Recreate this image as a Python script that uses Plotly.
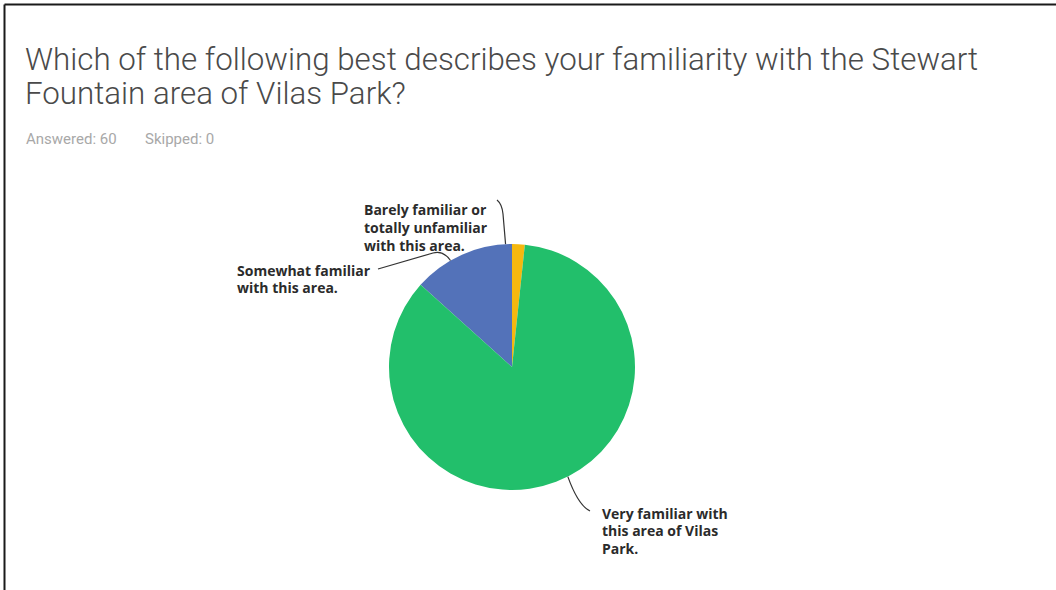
import math
import plotly.graph_objects as go

W, H = 1056, 590

categories = [
    "Barely familiar or totally unfamiliar with this area.",
    "Somewhat familiar with this area.",
    "Very familiar with this area of Vilas Park.",
]
label_lines = [
    ["Barely familiar or", "totally unfamiliar", "with this area."],
    ["Somewhat familiar", "with this area."],
    ["Very familiar with", "this area of Vilas", "Park."],
]
values = [1, 8, 51]
colors = ["#f5b80f", "#5372b9", "#22bf6b"]

title_lines = [
    "Which of the following best describes your familiarity with the Stewart",
    "Fountain area of Vilas Park?",
]
subtitle_parts = ["Answered: 60", "Skipped: 0"]

# layout geometry (pixels)
CX, CY, R = 512, 367, 123


def px(x):
    return x / W


def py(y):
    return 1 - y / H


fig = go.Figure()
fig.add_trace(go.Pie(
    labels=categories,
    values=values,
    marker=dict(colors=colors, line=dict(width=0)),
    sort=False,
    direction="counterclockwise",
    rotation=0,
    textinfo="none",
    hoverinfo="label+value+percent",
    showlegend=False,
    domain=dict(x=[px(CX - R), px(CX + R)], y=[py(CY + R), py(CY - R)]),
))

# slice mid-angle anchor points (counterclockwise from 12 o'clock)
total = sum(values)
anchors = []
cum = 0
for v in values:
    mid = (cum + v / 2) / total * 2 * math.pi
    cum += v
    anchors.append((CX - R * math.sin(mid), CY - R * math.cos(mid)))

# label text positions (pixels: left x, first-line y)
label_pos = [(362, 210), (235, 270), (600, 513)]
line_h = 17.5

shapes = []
ax, ay = anchors[0]
shapes.append(dict(type="path", xref="paper", yref="paper",
                   path=f"M {px(ax)} {py(ay)} L {px(503)} {py(214)} Q {px(502)} {py(204)} {px(497)} {py(200)}",
                   line=dict(color="#333333", width=1.2)))
ax, ay = anchors[1]
shapes.append(dict(type="path", xref="paper", yref="paper",
                   path=f"M {px(ax)} {py(ay)} Q {px(443)} {py(250)} {px(433)} {py(253)} L {px(378)} {py(269)}",
                   line=dict(color="#333333", width=1.2)))
ax, ay = anchors[2]
shapes.append(dict(type="path", xref="paper", yref="paper",
                   path=f"M {px(ax)} {py(ay)} Q {px(578)} {py(505)} {px(590)} {py(511)}",
                   line=dict(color="#333333", width=1.2)))

# frame lines (left and top)
shapes.append(dict(type="line", xref="paper", yref="paper",
                   x0=px(4.5), x1=px(4.5), y0=0, y1=py(4.5),
                   line=dict(color="#1a1a1a", width=2)))
shapes.append(dict(type="line", xref="paper", yref="paper",
                   x0=px(4.5), x1=1, y0=py(4.5), y1=py(4.5),
                   line=dict(color="#1a1a1a", width=2)))

annotations = []
for (lx, ly), lines in zip(label_pos, label_lines):
    for i, t in enumerate(lines):
        annotations.append(dict(
            x=px(lx), y=py(ly + i * line_h), xref="paper", yref="paper",
            xanchor="left", yanchor="middle", showarrow=False, text=t,
            font=dict(family="Open Sans", size=14, color="#2b2b2b", weight="bold"),
        ))

for i, t in enumerate(title_lines):
    annotations.append(dict(
        x=px(23), y=py(60 + i * 34), xref="paper", yref="paper",
        xanchor="left", yanchor="middle", showarrow=False, text=t,
        font=dict(family="Roboto", size=31.3, color="#4a4a4a", weight=300),
    ))

for xpos, t in zip([24, 143], subtitle_parts):
    annotations.append(dict(
        x=px(xpos), y=py(139), xref="paper", yref="paper",
        xanchor="left", yanchor="middle", showarrow=False, text=t,
        font=dict(family="Roboto", size=15, color="#a8a8a8"),
    ))

fig.update_layout(
    width=W, height=H,
    margin=dict(l=0, r=0, t=0, b=0),
    paper_bgcolor="white", plot_bgcolor="white",
    shapes=shapes, annotations=annotations,
)

fig.write_html("out.html", config={"displayModeBar": False},
               post_script="document.body.style.margin='0px';")
